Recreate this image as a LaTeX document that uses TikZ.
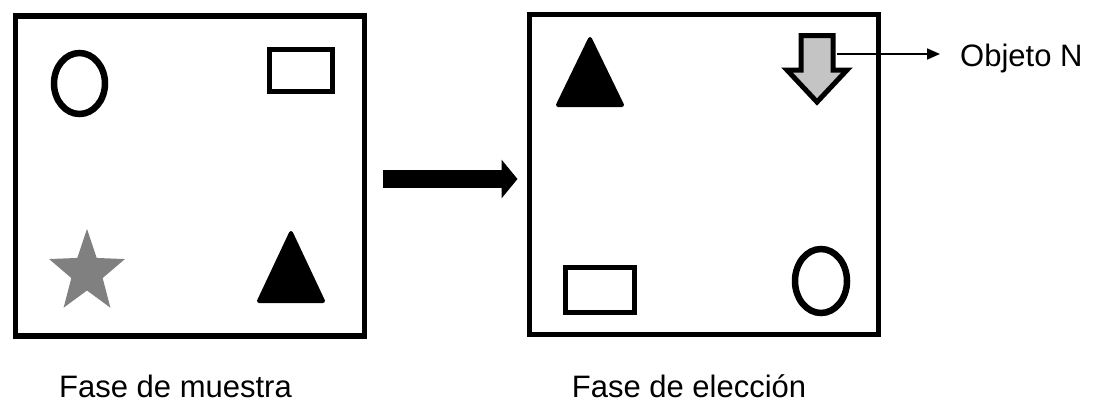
\documentclass[tikz,border=0pt]{standalone}
\usepackage{fontspec}
\setmainfont{Liberation Sans}
\usetikzlibrary{arrows.meta,calc}
\begin{document}
\begin{tikzpicture}[x=1pt,y=-1pt,
  panel/.style={draw=black,line width=5.5pt,minimum width=349pt,minimum height=320pt,inner sep=0pt},
  outline/.style={draw=black,line width=5pt,fill=white},
  ring/.style={draw=black,line width=6.5pt},
  solidtri/.style={fill=black,draw=black,line width=4pt,line join=round},
  caption/.style={font=\fontsize{31}{36}\selectfont,inner sep=0pt,anchor=base},
  bigarrow/.style={line width=18pt,-{Triangle[length=16pt,width=38pt]}},
  thinarrow/.style={line width=1.6pt,-{Triangle[length=13pt,width=11pt]}}]
\useasboundingbox (0,0) rectangle (1098,413);
\fill[white] (0,0) rectangle (1098,413);
% panels
\node[panel] (box1) at (190,176) {};
\node[panel] (box2) at (703.75,174.5) {};
% left panel shapes
\draw[ring] (79.5,83.5) ellipse [x radius=25.5, y radius=30.5];
\draw[outline] (269.5,49.5) rectangle (332.5,91.5);
\fill[fill={rgb,255:red,128;green,128;blue,128}]
  \foreach \a/\r [count=\k] in {90/43.5,126/18,162/43.5,198/18,234/43.5,270/18,306/43.5,342/18,18/43.5,54/18} {
    \ifnum\k=1 ($(87,272.5)+({0.915*\r*cos(\a)},{-\r*sin(\a)})$) \else -- ($(87,272.5)+({0.915*\r*cos(\a)},{-\r*sin(\a)})$) \fi
  } -- cycle;
\draw[solidtri] (291,233) -- (323,301) -- (259,301) -- cycle;
% right panel shapes
\draw[solidtri] (590,39) -- (622,105) -- (558,105) -- cycle;
\draw[draw=black,line width=5pt,fill={rgb,255:red,196;green,196;blue,196},line join=miter]
  (801,35.5) -- (833,35.5) -- (833,70) -- (847,70) -- (817,102) -- (787,70) -- (801,70) -- cycle;
\draw[outline] (565.5,267.5) rectangle (634.5,312.5);
\draw[ring] (821,281) ellipse [x radius=26, y radius=32];
% captions
\node[caption] (cap1) at (175.5,397) {Fase de muestra};
\node[caption] (cap2) at (689,397) {Fase de elección};
\node[caption,anchor=base west] (objN) at (960,66) {Objeto N};
% connectors
\coordinate (arrowy) at (0,179);
\draw[bigarrow,shorten <=16pt,shorten >=9pt] (box1.east |- arrowy) -- (box2.west |- arrowy);
\coordinate (objdown) at (837,54);
\draw[thinarrow,shorten >=20pt] (objdown) -- (objN.west |- objdown);
\end{tikzpicture}
\end{document}
